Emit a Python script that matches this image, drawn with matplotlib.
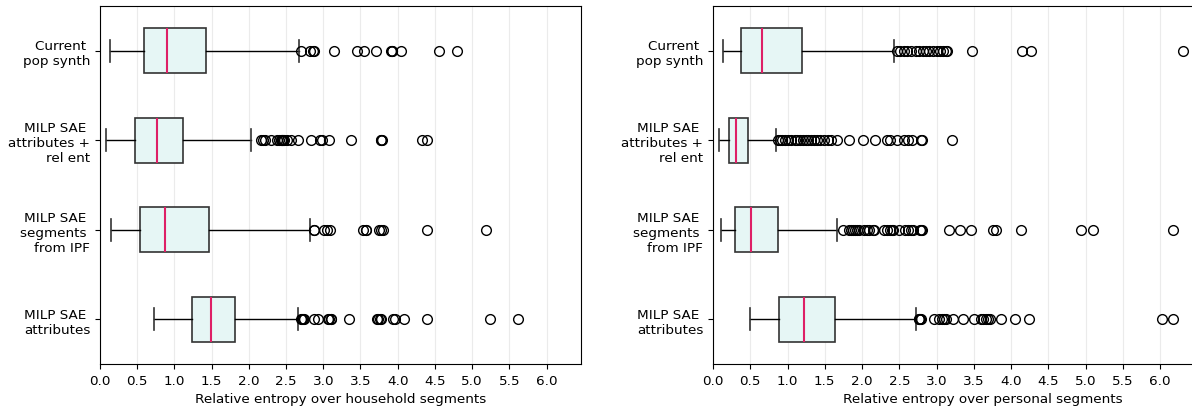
import matplotlib
matplotlib.use("Agg")
import matplotlib.pyplot as plt

# Methods, listed top to bottom as they appear on the y axis
methods = ["Current \npop synth", "MILP SAE \nattributes +\nrel ent",
           "MILP SAE \nsegments \nfrom IPF", "MILP SAE \nattributes"]

# Household segments: five-number summaries (whislo, q1, med, q3, whishi) and outliers
hh_current = [0.14, 0.59, 0.90, 1.43, 2.68]
hh_current_out = [2.70, 2.82, 2.86, 2.88, 3.15, 3.45, 3.55, 3.71, 3.91, 3.92, 3.93,
                  4.05, 4.56, 4.80]
hh_relent = [0.08, 0.47, 0.76, 1.11, 2.03]
hh_relent_out = [2.16, 2.19, 2.22, 2.30, 2.38, 2.41, 2.43, 2.44, 2.45, 2.46, 2.47,
                 2.51, 2.56, 2.66, 2.84, 2.96, 2.98, 3.08, 3.37, 3.77, 3.78, 3.79,
                 4.33, 4.39]
hh_ipf = [0.15, 0.54, 0.875, 1.46, 2.82]
hh_ipf_out = [2.87, 2.88, 3.01, 3.05, 3.09, 3.54, 3.57, 3.58, 3.75, 3.78, 3.80,
              4.40, 5.19]
hh_attr = [0.72, 1.23, 1.49, 1.815, 2.665]
hh_attr_out = [2.70, 2.72, 2.73, 2.74, 2.87, 2.93, 3.06, 3.08, 3.10, 3.11, 3.34,
               3.72, 3.74, 3.76, 3.78, 3.94, 3.96, 4.09, 4.40, 5.24, 5.62]

# Personal segments
p_current = [0.13, 0.37, 0.655, 1.20, 2.43]
p_current_out = [2.47, 2.51, 2.56, 2.60, 2.66, 2.72, 2.76, 2.82, 2.86, 2.90, 2.95,
                 3.00, 3.04, 3.08, 3.12, 3.14, 3.47, 4.14, 4.27, 6.30]
p_relent = [0.085, 0.22, 0.305, 0.474, 0.85]
p_relent_out = [0.87, 0.90, 0.93, 0.97, 1.01, 1.05, 1.10, 1.13, 1.17, 1.21, 1.25,
                1.28, 1.31, 1.35, 1.40, 1.44, 1.49, 1.54, 1.58, 1.66, 1.82, 2.01,
                2.17, 2.34, 2.37, 2.47, 2.56, 2.62, 2.67, 2.79, 2.80, 3.21]
p_ipf = [0.105, 0.297, 0.514, 0.868, 1.67]
p_ipf_out = [1.75, 1.82, 1.85, 1.88, 1.90, 1.93, 1.96, 2.02, 2.06, 2.09, 2.15, 2.16,
             2.29, 2.33, 2.38, 2.40, 2.41, 2.49, 2.58, 2.62, 2.66, 2.68, 2.78, 2.79,
             2.80, 3.17, 3.31, 3.46, 3.75, 3.80, 4.13, 4.94, 5.10, 6.17]
p_attr = [0.49, 0.888, 1.224, 1.634, 2.73]
p_attr_out = [2.76, 2.77, 2.78, 2.79, 2.97, 3.03, 3.07, 3.10, 3.13, 3.22, 3.36, 3.50,
              3.59, 3.62, 3.66, 3.69, 3.72, 3.86, 4.05, 4.24, 6.03, 6.17]

xticks = [0.0, 0.5, 1.0, 1.5, 2.0, 2.5, 3.0, 3.5, 4.0, 4.5, 5.0, 5.5, 6.0]

BOX_FACE = "#e6f6f5"
BOX_EDGE = "#333333"
MEDIAN = "#de1f66"
FS = 9.7


def make_stats(summaries, outliers):
    stats = []
    for (lo, q1, med, q3, hi), fl in zip(summaries, outliers):
        stats.append(dict(whislo=lo, q1=q1, med=med, q3=q3, whishi=hi, fliers=fl))
    return stats


def draw_panel(ax, summaries, outliers, xlabel):
    # bxp places position 1 at the bottom, so reverse the top-to-bottom order
    stats = make_stats(summaries[::-1], outliers[::-1])
    ax.bxp(stats, positions=[1, 2, 3, 4], widths=0.5, vert=False,
           patch_artist=True,
           boxprops=dict(facecolor=BOX_FACE, edgecolor=BOX_EDGE, linewidth=1.2),
           medianprops=dict(color=MEDIAN, linewidth=1.5),
           whiskerprops=dict(color="black", linewidth=1.0),
           capprops=dict(color=BOX_EDGE, linewidth=1.2),
           flierprops=dict(marker="o", markerfacecolor="none",
                           markeredgecolor="black", markersize=7,
                           markeredgewidth=1.0))
    allvals = [v for fl in outliers for v in fl]
    ax.set_xlim(0, max(allvals) * 1.15)
    ax.set_ylim(0.5, 4.5)
    ax.set_xticks(xticks)
    ax.set_yticks([1, 2, 3, 4])
    ax.set_yticklabels(methods[::-1], fontsize=FS)
    ax.tick_params(axis="x", labelsize=FS)
    ax.xaxis.grid(True, color="#ebebeb", linewidth=0.8)
    ax.set_axisbelow(True)
    ax.set_xlabel(xlabel, fontsize=FS)


fig = plt.figure(figsize=(11.92, 4.10), dpi=100)

ax1 = fig.add_axes([100 / 1192, 45 / 410, 481 / 1192, 358 / 410])
draw_panel(ax1,
           [hh_current, hh_relent, hh_ipf, hh_attr],
           [hh_current_out, hh_relent_out, hh_ipf_out, hh_attr_out],
           "Relative entropy over household segments")

# The right panel runs past the figure edge
ax2 = fig.add_axes([713 / 1192, 45 / 410, 540 / 1192, 358 / 410])
draw_panel(ax2,
           [p_current, p_relent, p_ipf, p_attr],
           [p_current_out, p_relent_out, p_ipf_out, p_attr_out],
           "Relative entropy over personal segments")

fig.savefig("out.png", dpi=100)
